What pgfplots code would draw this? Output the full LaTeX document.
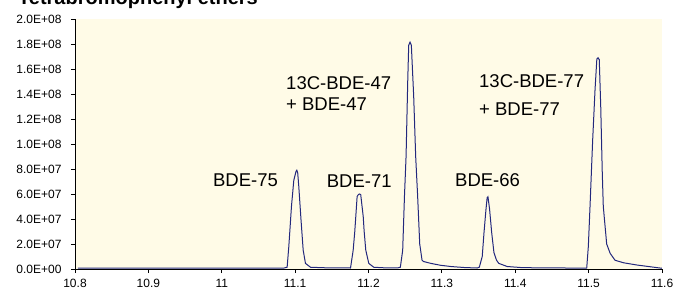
\documentclass[border=0pt]{standalone}
\usepackage{fontspec}
\setmainfont{Liberation Sans}
\usepackage{pgfplots}
\pgfplotsset{compat=1.18}
\definecolor{bgc}{RGB}{255,251,231}
\definecolor{linec}{RGB}{35,40,125}
\begin{document}
\begin{tikzpicture}[x=1pt,y=1pt]
\useasboundingbox (-75,-24) rectangle (603,269);
\begin{axis}[
  at={(0,0)}, anchor=south west,
  scale only axis, width=587pt, height=250pt,
  xmin=10.8, xmax=11.6, ymin=0, ymax=200,
  axis lines*=left,
  axis line style={black, line width=0.8pt, -},
  axis background/.style={fill=bgc},
  tick align=outside, major tick length=4pt,
  tick style={black, line width=0.8pt},
  xtick={10.8,10.9,11,11.1,11.2,11.3,11.4,11.5,11.6},
  xticklabels={10.8,10.9,11,11.1,11.2,11.3,11.4,11.5,11.6},
  ytick={0,20,40,60,80,100,120,140,160,180,200},
  yticklabels={0.0E+00,2.0E+07,4.0E+07,6.0E+07,8.0E+07,1.0E+08,1.2E+08,1.4E+08,1.6E+08,1.8E+08,2.0E+08},
  tick label style={font=\fontsize{12}{14}\selectfont},
  xticklabel style={font=\fontsize{12}{14}\selectfont, yshift=-3pt},
  yticklabel style={font=\fontsize{12}{14}\selectfont, xshift=-6pt},
  /pgf/number format/assume math mode=true,
  clip=false,
]
\addplot[linec, line width=1pt, mark=none] table {
x y
10.804 0.8
10.85 0.8
10.9 0.8
10.95 0.8
11.0 0.8
11.05 0.8
11.085 0.8
11.0891 1.4
11.0914 18
11.095 50
11.0982 71
11.1012 78
11.1023 79
11.1035 77
11.105 66
11.1083 37
11.111 15
11.1141 4.5
11.121 1.4
11.14 1.0
11.17 0.9
11.1755 0.8
11.1791 15
11.1813 30
11.1845 58
11.1862 59.5
11.1878 60
11.1894 59.5
11.1928 42
11.1941 30
11.1963 15
11.2004 4.5
11.2072 1.4
11.22 1.0
11.24 0.9
11.2434 1.4
11.2466 15
11.249 58
11.2512 90
11.2535 151
11.2548 179
11.2566 181.5
11.2584 179
11.2616 138
11.2643 90
11.267 58
11.2698 20
11.273 7
11.275 6
11.285 4.5
11.298 3
11.312 2
11.33 1.2
11.348 0.8
11.351 1.4
11.355 10
11.3574 29
11.3600 47
11.3617 57
11.3628 57.8
11.365 48
11.3679 29
11.371 13
11.3745 7
11.3776 4.5
11.389 2
11.407 1.2
11.43 0.9
11.47 0.8
11.4974 0.8
11.4996 18
11.5019 50
11.5055 103
11.5087 143
11.5112 168
11.5128 169
11.5145 167.5
11.5165 130
11.5186 77
11.52 50
11.5246 20
11.5294 12.5
11.536 7
11.5475 5
11.5657 3.2
11.584 1.8
11.5997 0.6
};
\begin{scope}[every node/.style={anchor=base west, inner sep=0pt, font=\fontsize{18.5}{20}\selectfont}]
\node at (axis cs:10.988,66.4) {BDE-75};
\node at (axis cs:11.143,65.6) {BDE-71};
\node at (axis cs:11.0876,143.8) {13C-BDE-47};
\node at (axis cs:11.0876,127.2) {+ BDE-47};
\node at (axis cs:11.3179,65.8) {BDE-66};
\node at (axis cs:11.3506,145.6) {13C-BDE-77};
\node at (axis cs:11.3506,123.2) {+ BDE-77};
\end{scope}
\end{axis}
\node[anchor=base west, inner sep=0pt, font=\bfseries\fontsize{20}{24}\selectfont] at (-57,264.5) {Tetrabromophenyl ethers};
\end{tikzpicture}
\end{document}
